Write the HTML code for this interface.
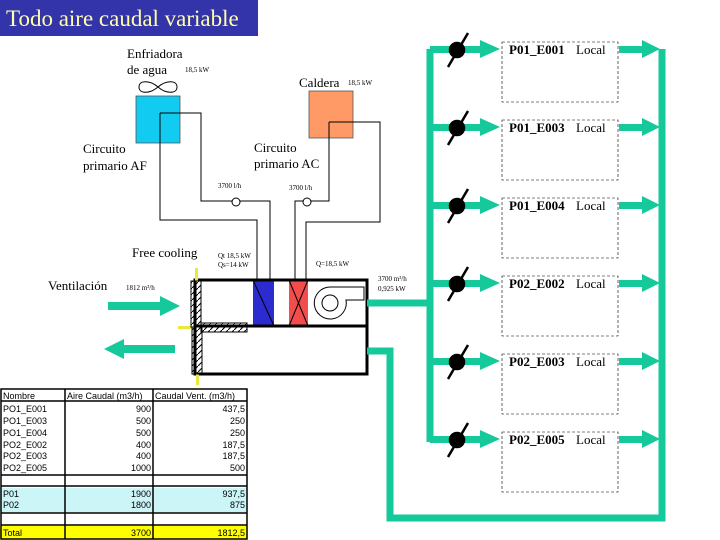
<!DOCTYPE html>
<html><head><meta charset="utf-8"><style>
html,body{margin:0;padding:0;background:#fff;width:720px;height:540px;overflow:hidden}
svg{display:block}
.s{font-family:"Liberation Serif",serif}
.a{font-family:"Liberation Sans",sans-serif;font-size:9px}
</style></head><body>
<svg width="720" height="540" viewBox="0 0 720 540" xmlns="http://www.w3.org/2000/svg">
<defs>
<pattern id="h" width="6" height="6" patternUnits="userSpaceOnUse"><path d="M0,6 L6,0" stroke="#000" stroke-width="1"/></pattern>
</defs>
<rect x="0" y="0" width="258" height="36" fill="#3333aa"/>
<text x="6" y="26" class="s" font-size="23" fill="#ffffaa">Todo aire caudal variable</text>

<text x="127" y="58" class="s" font-size="13">Enfriadora</text>
<text x="127" y="74" class="s" font-size="13">de agua</text>
<text x="185" y="72" class="s" font-size="7">18,5 kW</text>
<path d="M158,87 C150,80 139,80 139,87 C139,94 150,94 158,87 C166,80 177,80 177,87 C177,94 166,94 158,87Z" fill="none" stroke="#000"/>
<rect x="136" y="96" width="44" height="47" fill="#11ccf0" stroke="#555" stroke-width="0.8"/>
<text x="299" y="87" class="s" font-size="13">Caldera</text>
<text x="348" y="85" class="s" font-size="7">18,5 kW</text>
<rect x="309" y="91" width="44" height="47" fill="#ff9966" stroke="#555" stroke-width="0.8"/>

<g fill="none" stroke="#000" stroke-width="1">
<polyline points="160,113 201,113 201,201 270,201 270,280"/>
<polyline points="160,113 160,220 257,220 257,280"/>
<polyline points="329,122 380,122 380,222 306,222 306,280"/>
<polyline points="329,122 329,201 295,201 295,280"/>
<circle cx="236" cy="202" r="4" fill="#fff"/>
<circle cx="307" cy="202" r="4" fill="#fff"/>
</g>
<text x="83" y="153" class="s" font-size="13">Circuito</text>
<text x="83" y="170" class="s" font-size="13">primario AF</text>
<text x="254" y="152" class="s" font-size="13">Circuito</text>
<text x="254" y="168" class="s" font-size="13">primario AC</text>
<text x="218" y="188" class="s" font-size="7">3700 l/h</text>
<text x="289" y="190" class="s" font-size="7">3700 l/h</text>

<text x="132" y="257" class="s" font-size="13">Free cooling</text>
<text x="218" y="258" class="s" font-size="7">Qt 18,5 kW</text>
<text x="218" y="267" class="s" font-size="7">Qs=14 kW</text>
<text x="316" y="266" class="s" font-size="7">Q=18,5 kW</text>
<text x="48" y="290" class="s" font-size="13">Ventilación</text>
<text x="126" y="290" class="s" font-size="7">1812 m³/h</text>
<text x="378" y="281" class="s" font-size="7">3700 m³/h</text>
<text x="378" y="291" class="s" font-size="7">0,925 kW</text>

<rect x="253" y="280" width="21" height="46" fill="#2b2bd0"/>
<rect x="289" y="280" width="19" height="46" fill="#f24d4d"/>
<g fill="none" stroke="#000" stroke-width="1">
<line x1="253" y1="280" x2="274" y2="326"/>
<line x1="289" y1="280" x2="308" y2="326"/><line x1="308" y1="280" x2="289" y2="326"/>
<path d="M330,287 L364,287 L364,300 L346,300 A16,16 0 1 1 330,287"/>
<circle cx="330" cy="303" r="8"/>
</g>
<rect x="195" y="280" width="172" height="46" fill="none" stroke="#000" stroke-width="3"/>
<rect x="195" y="326" width="172" height="48" fill="none" stroke="#000" stroke-width="3"/>
<rect x="195" y="268" width="3" height="13" fill="#e8e840"/>
<rect x="178" y="326" width="13" height="3" fill="#e8e840"/>
<rect x="196" y="374" width="3" height="11" fill="#e8e840"/>
<rect x="191" y="281" width="10" height="46" fill="url(#h)" stroke="#000"/>
<rect x="192" y="327" width="10" height="47" fill="url(#h)" stroke="#000"/>
<rect x="201" y="323" width="46" height="9" fill="url(#h)" stroke="#000"/>

<g fill="#16c99b">
<rect x="108" y="302" width="52" height="8"/><polygon points="160,296 180,306 160,316"/>
<rect x="123" y="345" width="52" height="8"/><polygon points="124,339 104,349 124,359"/>
</g>

<g fill="none" stroke="#16c99b" stroke-width="7">
<polyline points="367,303 430,303"/>
<polyline points="430,49 430,442"/>
<polyline points="367,351 390,351 390,518 662,518 662,49"/>
</g>
<g fill="#16c99b">
<rect x="430" y="46" width="50" height="7"/><polygon points="480,40 500,49 480,58"/>
<rect x="619" y="46" width="24" height="7"/><polygon points="642,40 660,49 642,58"/>
<rect x="430" y="124" width="50" height="7"/><polygon points="480,118 500,127 480,136"/>
<rect x="619" y="124" width="24" height="7"/><polygon points="642,118 660,127 642,136"/>
<rect x="430" y="202" width="50" height="7"/><polygon points="480,196 500,205 480,214"/>
<rect x="619" y="202" width="24" height="7"/><polygon points="642,196 660,205 642,214"/>
<rect x="430" y="280" width="50" height="7"/><polygon points="480,274 500,283 480,292"/>
<rect x="619" y="280" width="24" height="7"/><polygon points="642,274 660,283 642,292"/>
<rect x="430" y="358" width="50" height="7"/><polygon points="480,352 500,361 480,370"/>
<rect x="619" y="358" width="24" height="7"/><polygon points="642,352 660,361 642,370"/>
<rect x="430" y="436" width="50" height="7"/><polygon points="480,430 500,439 480,448"/>
<rect x="619" y="436" width="24" height="7"/><polygon points="642,430 660,439 642,448"/>
</g>
<g fill="#000" stroke="#000" stroke-width="2.5">
<circle cx="457" cy="50" r="7"/><line x1="448" y1="67" x2="468" y2="33"/>
<circle cx="457" cy="128" r="7"/><line x1="448" y1="145" x2="468" y2="111"/>
<circle cx="457" cy="206" r="7"/><line x1="448" y1="223" x2="468" y2="189"/>
<circle cx="457" cy="284" r="7"/><line x1="448" y1="301" x2="468" y2="267"/>
<circle cx="457" cy="362" r="7"/><line x1="448" y1="379" x2="468" y2="345"/>
<circle cx="457" cy="440" r="7"/><line x1="448" y1="457" x2="468" y2="423"/>
</g>
<g fill="none" stroke="#000" stroke-width="0.6" stroke-dasharray="3,2">
<rect x="502" y="42" width="116" height="60"/>
<rect x="502" y="120" width="116" height="60"/>
<rect x="502" y="198" width="116" height="60"/>
<rect x="502" y="276" width="116" height="60"/>
<rect x="502" y="354" width="116" height="60"/>
<rect x="502" y="432" width="116" height="60"/>
</g>
<g class="s" font-size="13">
<text x="509" y="54" font-weight="bold">P01_E001</text><text x="576" y="54">Local</text>
<text x="509" y="132" font-weight="bold">P01_E003</text><text x="576" y="132">Local</text>
<text x="509" y="210" font-weight="bold">P01_E004</text><text x="576" y="210">Local</text>
<text x="509" y="288" font-weight="bold">P02_E002</text><text x="576" y="288">Local</text>
<text x="509" y="366" font-weight="bold">P02_E003</text><text x="576" y="366">Local</text>
<text x="509" y="444" font-weight="bold">P02_E005</text><text x="576" y="444">Local</text>
</g>

<rect x="0" y="488" width="247" height="24" fill="#ccf5f8"/>
<rect x="0" y="526" width="247" height="13" fill="#ffff00"/>
<g stroke="#000" stroke-width="1.5" fill="none">
<rect x="1" y="389" width="246" height="150"/>
<line x1="1" y1="401" x2="247" y2="401"/>
<line x1="1" y1="475" x2="247" y2="475"/>
<line x1="1" y1="486" x2="247" y2="486"/>
<line x1="1" y1="513" x2="247" y2="513"/>
<line x1="1" y1="525" x2="247" y2="525"/>
<line x1="65" y1="389" x2="65" y2="539"/>
<line x1="153" y1="389" x2="153" y2="539"/>
</g>
<g class="a">
<text x="3" y="399">Nombre</text><text x="67" y="399">Aire Caudal (m3/h)</text><text x="155" y="399">Caudal Vent. (m3/h)</text>
<text x="3" y="412">PO1_E001</text><text x="151" y="412" text-anchor="end">900</text><text x="245" y="412" text-anchor="end">437,5</text>
<text x="3" y="424">PO1_E003</text><text x="151" y="424" text-anchor="end">500</text><text x="245" y="424" text-anchor="end">250</text>
<text x="3" y="436">PO1_E004</text><text x="151" y="436" text-anchor="end">500</text><text x="245" y="436" text-anchor="end">250</text>
<text x="3" y="448">PO2_E002</text><text x="151" y="448" text-anchor="end">400</text><text x="245" y="448" text-anchor="end">187,5</text>
<text x="3" y="459">PO2_E003</text><text x="151" y="459" text-anchor="end">400</text><text x="245" y="459" text-anchor="end">187,5</text>
<text x="3" y="471">PO2_E005</text><text x="151" y="471" text-anchor="end">1000</text><text x="245" y="471" text-anchor="end">500</text>
<text x="3" y="497">P01</text><text x="151" y="497" text-anchor="end">1900</text><text x="245" y="497" text-anchor="end">937,5</text>
<text x="3" y="508">P02</text><text x="151" y="508" text-anchor="end">1800</text><text x="245" y="508" text-anchor="end">875</text>
<text x="3" y="536">Total</text><text x="151" y="536" text-anchor="end">3700</text><text x="245" y="536" text-anchor="end">1812,5</text>
</g>
</svg>
</body></html>
